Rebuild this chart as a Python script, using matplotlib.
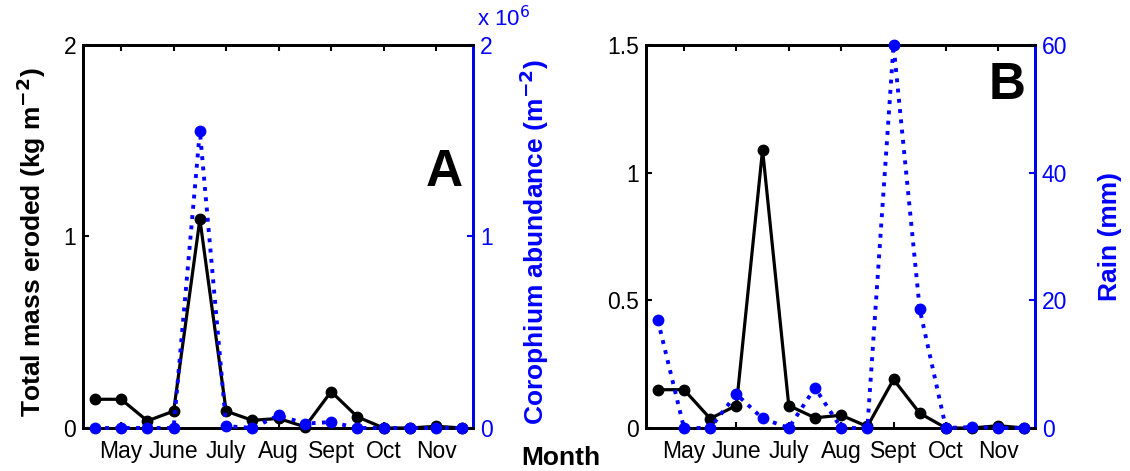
import matplotlib.pyplot as plt
import numpy as np

plt.rcParams['font.family'] = ['Liberation Sans', 'DejaVu Sans']

BLUE = '#0000ff'

# fortnightly samples, April to November
months = ['May', 'June', 'July', 'Aug', 'Sept', 'Oct', 'Nov']
month_idx = [1, 3, 5, 7, 9, 11, 13]

mass_eroded = [0.15, 0.15, 0.037, 0.088, 1.09, 0.088, 0.04, 0.05, 0.006,
               0.19, 0.058, 0.0, 0.0, 0.009, 0.0]
corophium = [0.0, 0.0, 0.0, 0.0, 1.55, 0.01, 0.0, 0.066, 0.023,
             0.031, 0.0, 0.0, 0.0, 0.0, 0.0]          # x 10^6 m^-2
rain = [16.9, 0.0, 0.0, 5.3, 1.5, 0.0, 6.3, 0.0, 0.0,
        60.0, 18.6, 0.0, 0.15, 0.0, 0.0]              # mm

x = np.arange(len(mass_eroded))

fig = plt.figure(figsize=(11.3, 4.71), dpi=100)

TICK_FS = 16.5
LABEL_FS = 19


def panel(rect, left_lim, left_ticks, left_tls, right_vals, right_lim,
          right_ticks, right_tls, letter, letter_y):
    ax = fig.add_axes(rect)
    ax.plot(x, mass_eroded, '-', color='black', lw=2.3, marker='o', ms=7.5,
            zorder=3, clip_on=False)
    ax.set_xlim(-0.45, 14.4)
    ax.set_ylim(*left_lim)
    ax.set_yticks(left_ticks)
    ax.set_yticklabels(left_tls)
    ax.set_xticks(month_idx)
    ax.set_xticklabels(months)
    ax.tick_params(direction='in', top=True, labelsize=TICK_FS, width=1.5,
                   length=4, pad=5)
    ax.tick_params(axis='x', pad=9)
    for s in ax.spines.values():
        s.set_linewidth(2)
    ax.text(0.975, letter_y, letter, transform=ax.transAxes,
            ha='right', va='center', fontsize=37, fontweight='bold')

    ax2 = ax.twinx()
    ax2.plot(x, right_vals, ':', color=BLUE, lw=2.8, marker='o', ms=7.5,
             zorder=3, clip_on=False)
    ax2.set_ylim(*right_lim)
    ax2.set_yticks(right_ticks)
    ax2.set_yticklabels(right_tls)
    ax2.tick_params(direction='in', colors=BLUE, labelsize=TICK_FS, width=1.5,
                    length=4, pad=5)
    ax2.spines['right'].set_color(BLUE)
    for s in ax2.spines.values():
        s.set_linewidth(2)
    return ax, ax2


axA, axA2 = panel([0.0735, 0.0913, 0.345, 0.8132], (0, 2), [0, 1, 2],
                  ['0', '1', '2'], corophium, (0, 2), [0, 1, 2],
                  ['0', '1', '2'], 'A', 0.668)
axA.set_ylabel('Total mass eroded (kg m$^{\\mathbf{-2}}$)', fontsize=LABEL_FS,
               fontweight='bold')
axA.yaxis.set_label_coords(-0.089, 0.486)
axA2.set_ylabel('Corophium abundance (m$^{\\mathbf{-2}}$)', fontsize=LABEL_FS,
                fontweight='bold', color=BLUE)
axA2.yaxis.set_label_coords(1.115, 0.486)
axA2.text(1.01, 1.05, 'x 10$^6$', transform=axA2.transAxes, color=BLUE,
          fontsize=16, ha='left', va='baseline')

axB, axB2 = panel([0.5717, 0.0913, 0.3442, 0.8132], (0, 1.5),
                  [0, 0.5, 1, 1.5], ['0', '0.5', '1', '1.5'], rain, (0, 60),
                  [0, 20, 40, 60], ['0', '20', '40', '60'], 'B', 0.895)
axB2.set_ylabel('Rain (mm)', fontsize=LABEL_FS, fontweight='bold', color=BLUE)
axB2.yaxis.set_label_coords(1.162, 0.5)

fig.text(0.4965, 0.028, 'Month', fontsize=19, fontweight='bold',
         ha='center', va='center')

fig.savefig('out.png', dpi=100)
